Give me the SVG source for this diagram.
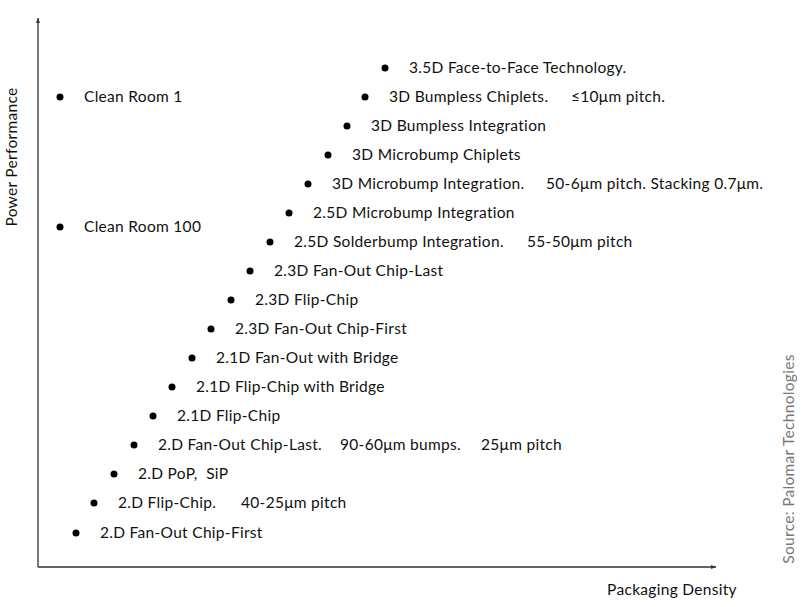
<svg xmlns="http://www.w3.org/2000/svg" width="803" height="607" viewBox="0 0 803 607">
<style>
text{font-family:"Lato","Open Sans","Liberation Sans",sans-serif;font-size:15.5px;letter-spacing:0.3px;fill:#111}
.d{fill:#000}
.ax{stroke:#333;stroke-width:1.3;fill:none}
</style>
<defs><marker id="ar" markerWidth="6" markerHeight="6" refX="5" refY="3" orient="auto" markerUnits="userSpaceOnUse"><path d="M0,1 L5,3 L0,5 Z" fill="#333"/></marker></defs>
<rect width="803" height="607" fill="#fff"/>
<g id="axes">
<line class="ax" x1="38" y1="567" x2="38" y2="18" marker-end="url(#ar)"/>
<line class="ax" x1="38" y1="567" x2="716" y2="567" marker-end="url(#ar)"/>
<text x="17" y="157" text-anchor="middle" transform="rotate(-90 17 157)">Power Performance</text>
<text x="672" y="595" text-anchor="middle">Packaging Density</text>
<text x="794" y="459" text-anchor="middle" style="fill:#777" transform="rotate(-90 794 459)">Source: Palomar Technologies</text>
</g>
<g id="n1"><circle class="d" cx="385" cy="68" r="3.5"/><text x="409" y="73">3.5D Face-to-Face Technology.</text></g>
<g id="n2"><circle class="d" cx="365" cy="97" r="3.5"/><text x="389" y="102">3D Bumpless Chiplets.</text><text x="571" y="102">≤10μm pitch.</text></g>
<g id="n3"><circle class="d" cx="347" cy="126" r="3.5"/><text x="371" y="131">3D Bumpless Integration</text></g>
<g id="n4"><circle class="d" cx="328" cy="155" r="3.5"/><text x="352" y="160">3D Microbump Chiplets</text></g>
<g id="n5"><circle class="d" cx="308" cy="184" r="3.5"/><text x="332" y="189">3D Microbump Integration.</text><text x="546" y="189">50-6μm pitch. Stacking 0.7μm.</text></g>
<g id="n6"><circle class="d" cx="289" cy="213" r="3.5"/><text x="313" y="218">2.5D Microbump Integration</text></g>
<g id="n7"><circle class="d" cx="270" cy="242" r="3.5"/><text x="294" y="247">2.5D Solderbump Integration.</text><text x="527" y="247">55-50μm pitch</text></g>
<g id="n8"><circle class="d" cx="250" cy="271" r="3.5"/><text x="274" y="276">2.3D Fan-Out Chip-Last</text></g>
<g id="n9"><circle class="d" cx="231" cy="300" r="3.5"/><text x="255" y="305">2.3D Flip-Chip</text></g>
<g id="n10"><circle class="d" cx="211" cy="329" r="3.5"/><text x="235" y="334">2.3D Fan-Out Chip-First</text></g>
<g id="n11"><circle class="d" cx="192" cy="358" r="3.5"/><text x="216" y="363">2.1D Fan-Out with Bridge</text></g>
<g id="n12"><circle class="d" cx="172" cy="387" r="3.5"/><text x="196" y="392">2.1D Flip-Chip with Bridge</text></g>
<g id="n13"><circle class="d" cx="153" cy="416" r="3.5"/><text x="177" y="421">2.1D Flip-Chip</text></g>
<g id="n14"><circle class="d" cx="134" cy="445" r="3.5"/><text x="158" y="450">2.D Fan-Out Chip-Last.</text><text x="340" y="450">90-60μm bumps.</text><text x="481" y="450">25μm pitch</text></g>
<g id="n15"><circle class="d" cx="114" cy="474" r="3.5"/><text x="138" y="479" xml:space="preserve">2.D PoP,  SiP</text></g>
<g id="n16"><circle class="d" cx="94" cy="503" r="3.5"/><text x="118" y="508">2.D Flip-Chip.</text><text x="241" y="508">40-25μm pitch</text></g>
<g id="n17"><circle class="d" cx="76" cy="533" r="3.5"/><text x="100" y="538">2.D Fan-Out Chip-First</text></g>
<g id="cr1"><circle class="d" cx="60" cy="97" r="3.5"/><text x="84" y="102">Clean Room 1</text></g>
<g id="cr100"><circle class="d" cx="60" cy="227" r="3.5"/><text x="84" y="232">Clean Room 100</text></g>
<g id="connectors"></g>
</svg>
